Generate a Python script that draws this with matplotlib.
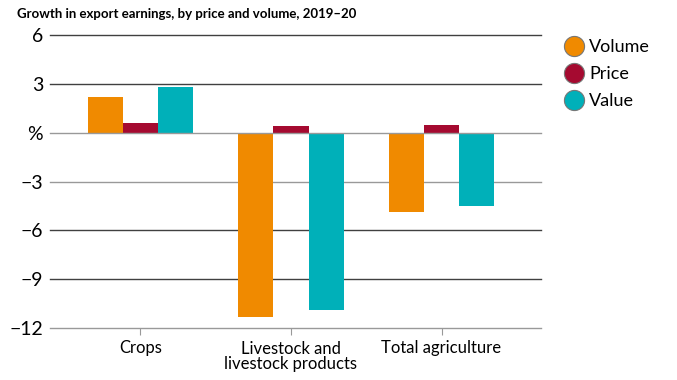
import numpy as np
import matplotlib.pyplot as plt
from matplotlib.lines import Line2D

plt.rcParams['font.family'] = ['Lato', 'DejaVu Sans']

categories = ['Crops', 'Livestock and\nlivestock products', 'Total agriculture']
volume = [2.2, -11.3, -4.9]
price = [0.6, 0.4, 0.5]
value = [2.8, -10.9, -4.5]
series_names = ['Volume', 'Price', 'Value']
colors = ['#F08A00', '#A50A30', '#00B0B9']
yticks = [6, 3, 0, -3, -6, -9, -12]
ytick_labels = ['6', '3', '%', '\u22123', '\u22126', '\u22129', '\u221212']

fig = plt.figure(figsize=(6.77, 3.8), dpi=100)
ax = fig.add_axes([50/677, 1-328/380, 491/677, 293/380])

x = np.arange(len(categories))
w = 0.233
for i, (vals, c) in enumerate(zip([volume, price, value], colors)):
    ax.bar(x + (i-1)*w, vals, width=w, color=c, zorder=3)

for t in yticks:
    lc = '#999999' if t in (0, -3, -12) else '#404040'
    ax.axhline(t, color=lc, lw=1.0, zorder=1 if t != 0 else 4, clip_on=False)

ax.set_ylim(-12, 6)
ax.set_xlim(-0.601, 2.661)
ax.set_yticks(yticks)
ax.set_yticklabels(ytick_labels, fontsize=14)
ax.tick_params(axis='y', length=0, pad=5)
ax.set_xticks(x)
ax.set_xticklabels(categories, fontsize=12, linespacing=0.95)
ax.tick_params(axis='x', length=5, color='#999999', pad=4)
for s in ['top', 'right', 'left', 'bottom']:
    ax.spines[s].set_visible(False)

fig.text(17/677, 1-14/380, 'Growth in export earnings, by price and volume, 2019\u201320',
         fontsize=9.5, fontweight='bold', va='center', ha='left')

handles = [Line2D([], [], marker='o', ls='none', markersize=14.5, markerfacecolor=c,
                  markeredgecolor='#777777', markeredgewidth=0.8) for c in colors]
fig.legend(handles, series_names, loc='upper left', bbox_to_anchor=(564/677, 1-39/380),
           frameon=False, fontsize=13, handletextpad=0.3, labelspacing=0.62,
           borderaxespad=0, borderpad=0, handlelength=1.1)

fig.savefig('out.png', dpi=100)
